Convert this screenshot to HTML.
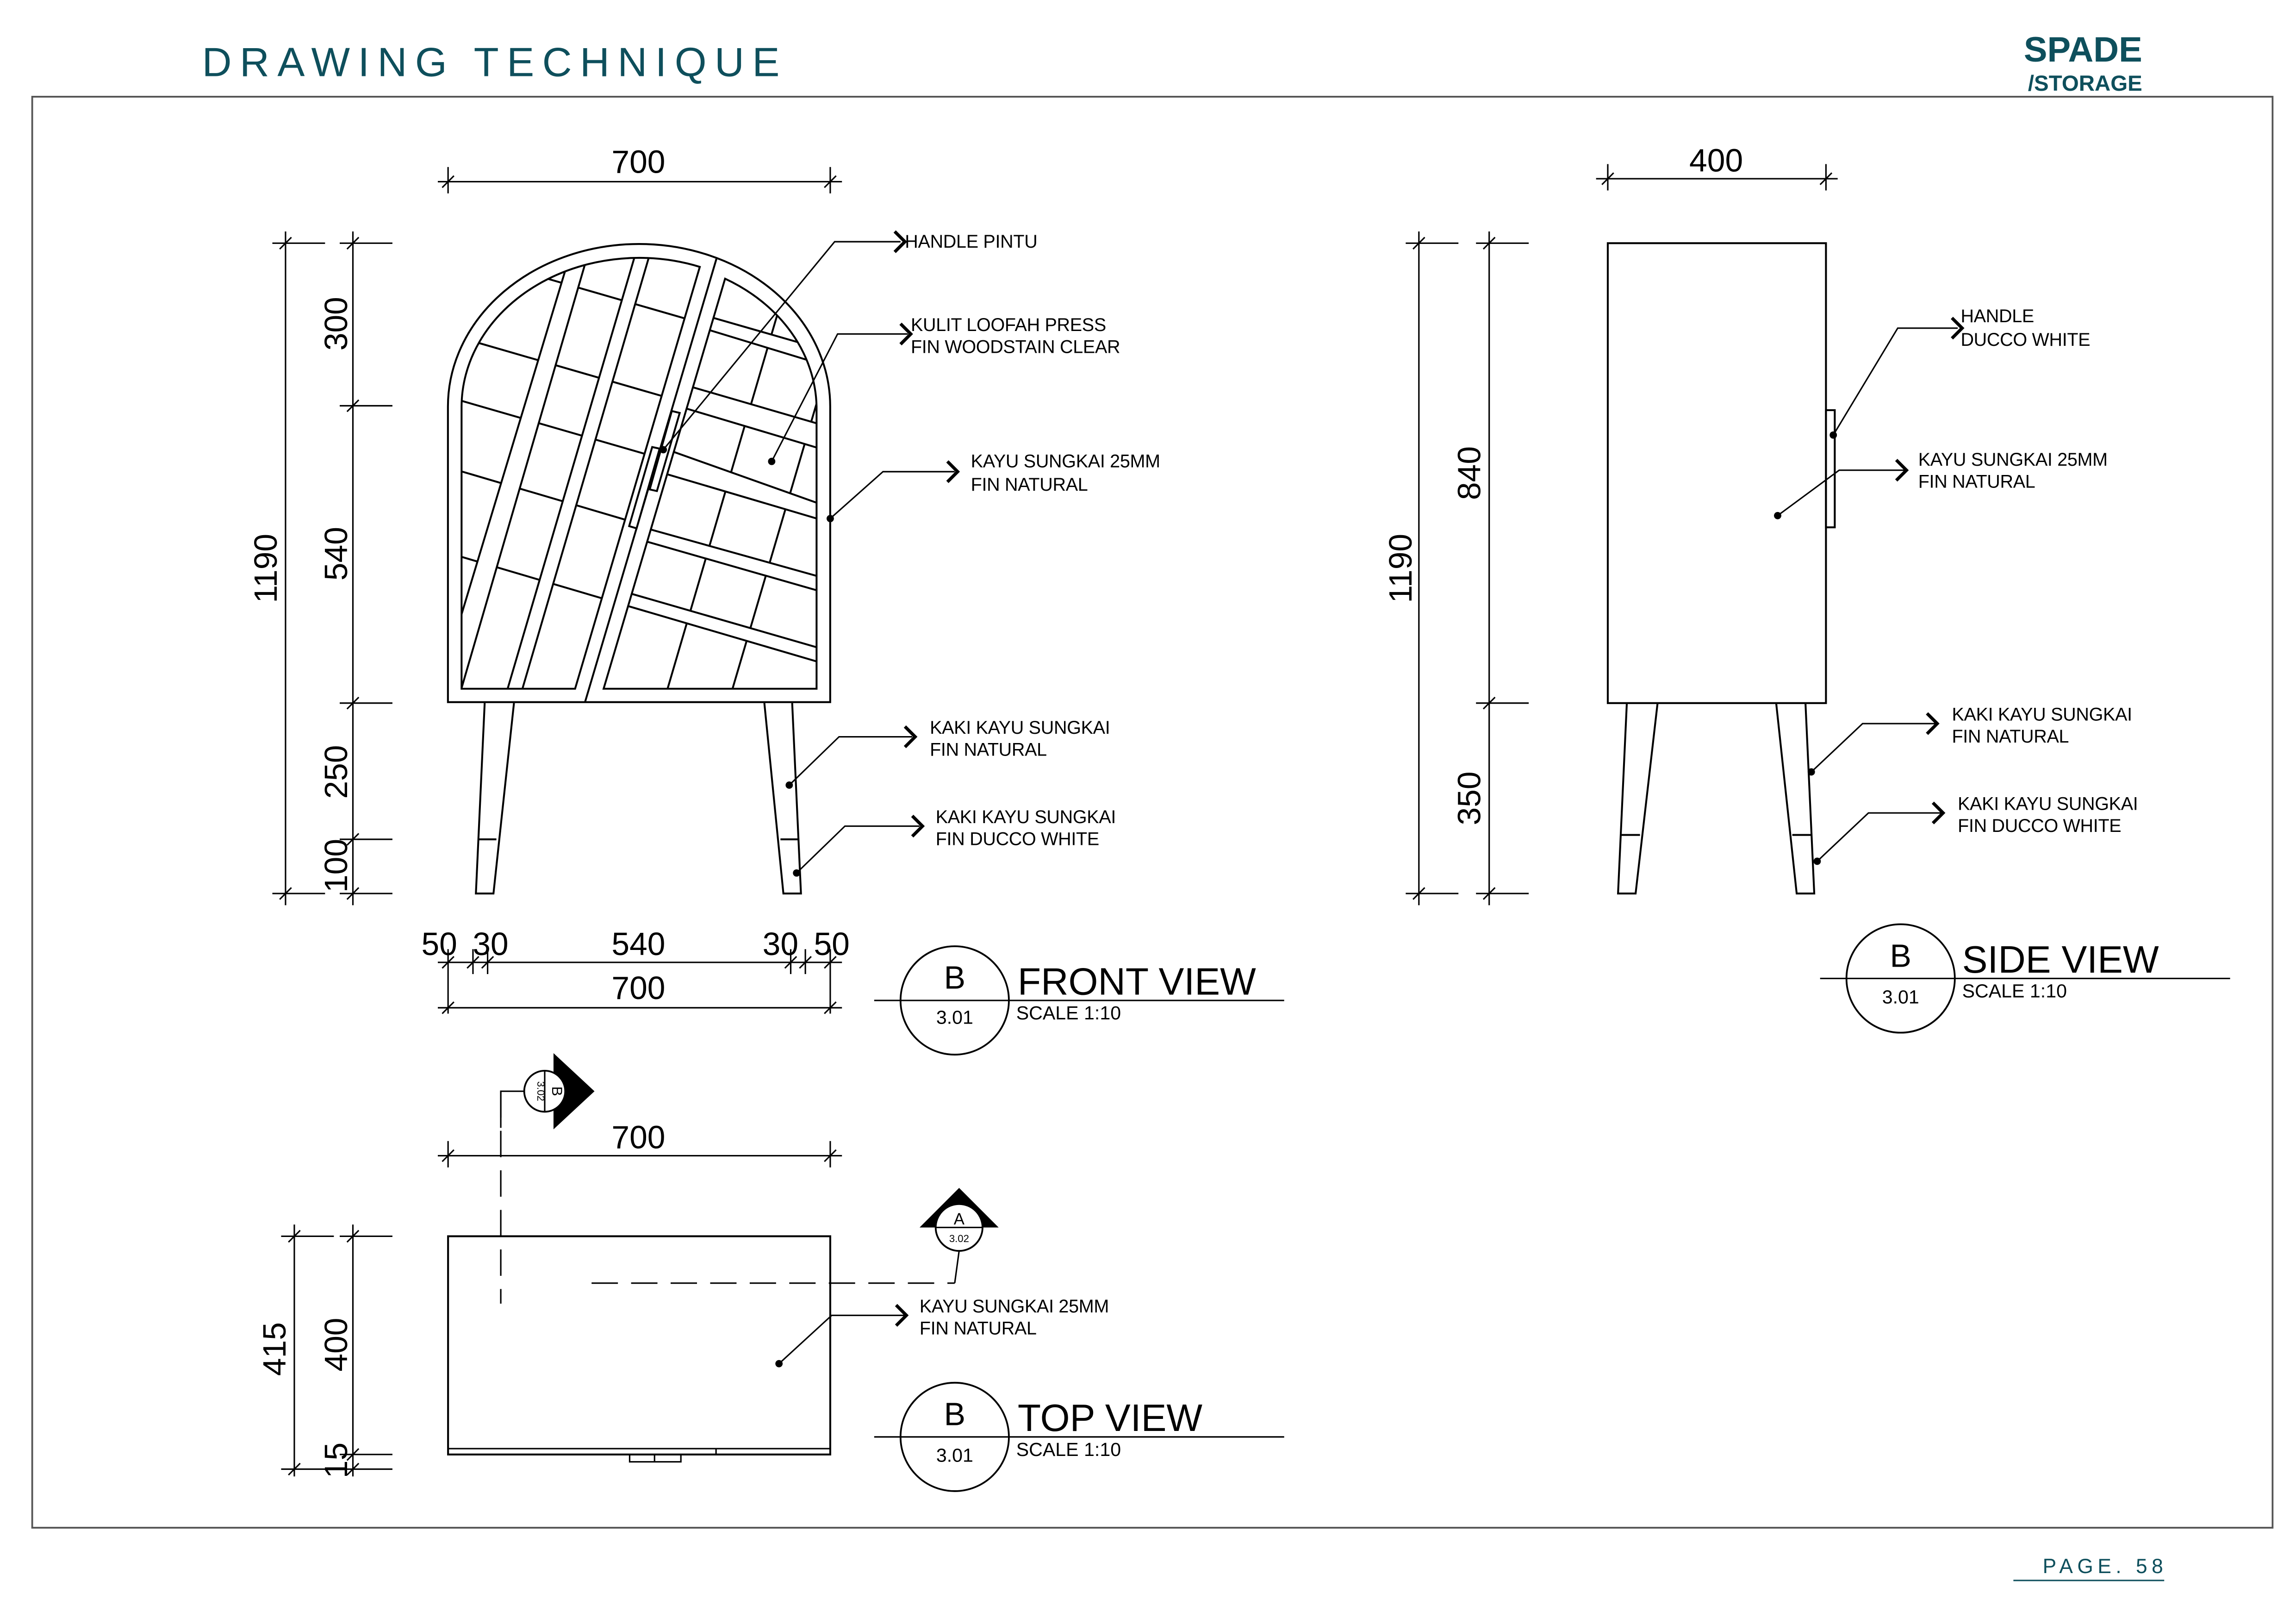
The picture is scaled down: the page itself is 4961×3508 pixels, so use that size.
<!DOCTYPE html>
<html><head><meta charset="utf-8"><style>
html,body{margin:0;padding:0;background:#fff}
svg{display:block}
text{font-family:"Liberation Sans",sans-serif;fill:#000}
.l{fill:none;stroke:#000;stroke-width:1.3}
.t{fill:none;stroke:#000;stroke-width:1}
.a{fill:none;stroke:#000;stroke-width:2.2}
.lb{font-size:12.5px;letter-spacing:-0.1px}
.dm{font-size:22px}
.ns{vector-effect:non-scaling-stroke;stroke-width:4.1}
</style></head><body>
<svg width="4961" height="3508" viewBox="0 0 1568 1108.7" xmlns="http://www.w3.org/2000/svg">
<defs>
<clipPath id="cL"><path d="M107,1463 V578 A716 468 0 0 1 1068,140 L565,1463 Z"/></clipPath>
<clipPath id="cR"><path d="M680,1463 L1170,177 A716 468 0 0 1 1539,578 V1463 Z"/></clipPath>
</defs>
<rect width="1568" height="1108.7" fill="#fff"/>
<text x="138" y="52" style="font-size:28px;letter-spacing:5.5px;fill:#0e4f5c">DRAWING TECHNIQUE</text>
<text x="1463" y="42" text-anchor="end" style="font-size:24px;font-weight:bold;fill:#0e4f5c">SPADE</text>
<text x="1463" y="62" text-anchor="end" style="font-size:15px;font-weight:bold;fill:#0e4f5c">/STORAGE</text>
<rect x="22" y="66" width="1530" height="977" fill="none" stroke="#555" stroke-width="1.2"/>
<text x="1395" y="1074" style="font-size:14px;letter-spacing:3px;fill:#0e4f5c">PAGE. 58</text>
<line x1="1375" y1="1079" x2="1478" y2="1079" stroke="#0e4f5c" stroke-width="1"/>

<g transform="translate(297.1,151.7) scale(0.1693,0.2177)">
 <path class="ns" d="M52,1505 V578 A771 510 0 0 1 1594,578 V1505 Z" fill="#fff" stroke="#000"/>
 <line class="ns" x1="605" y1="1505" x2="1135" y2="115" stroke="#000"/>
 <g clip-path="url(#cL)" stroke="#000" fill="#fff">
  <line class="ns" x1="-200" y1="30" x2="1600" y2="435"/>
  <line class="ns" x1="-200" y1="294" x2="1600" y2="699"/>
  <line class="ns" x1="-200" y1="491" x2="1600" y2="896"/>
  <line class="ns" x1="-200" y1="711" x2="1600" y2="1124"/>
  <line class="ns" x1="-200" y1="979" x2="1600" y2="1392"/>
  <path class="ns" d="M-50,1634 L584,0 L658,-10 L-50,1880 Z"/>
  <path class="ns" d="M190,1735 L846,0 L904,0 L250,1735 Z"/>
 </g>
 <path class="ns" d="M107,1463 V578 A716 468 0 0 1 1068,140 L565,1463 Z" fill="none" stroke="#000"/>
 <g clip-path="url(#cR)" stroke="#000" fill="#fff">
  <line class="ns" x1="1450" y1="106" x2="938" y2="1463"/>
  <line class="ns" x1="1620" y1="355" x2="1200" y2="1463"/>
  <path class="ns" d="M600,183 L1700,429 L1700,479 L600,218 Z"/>
  <path class="ns" d="M600,418 L1700,667 L1700,744 L600,488 Z"/>
  <path class="ns" d="M600,620 L1700,924 L1700,966 L600,713 Z"/>
  <path class="ns" d="M600,905 L1700,1144 L1700,1190 L600,945 Z"/>
  <path class="ns" d="M600,1122 L1700,1369 L1700,1414 L600,1163 Z"/>
 </g>
 <path class="ns" d="M680,1463 L1170,177 A716 468 0 0 1 1539,578 V1463 Z" fill="none" stroke="#000"/>
 <polygon class="ns" points="955,592 987,598 895,843 866,838" fill="#fff" stroke="#000"/>
 <polygon class="ns" points="876,705 906,710 813,960 783,953" fill="#fff" stroke="#000"/>
</g>
<path class="l" d="M331,480 L325,610 L337,610 L351,480 M327,573 H339"/>
<path class="l" d="M522,480 L535,610 L547,610 L541,480 M533,573 H545"/>

<g class="t">
 <line x1="299" y1="124" x2="575" y2="124"/><line x1="306" y1="114" x2="306" y2="132"/><line x1="567" y1="114" x2="567" y2="132"/>
 <line x1="302" y1="128" x2="310" y2="120"/><line x1="563" y1="128" x2="571" y2="120"/>
 <line x1="195" y1="158" x2="195" y2="618"/>
 <line x1="186" y1="166" x2="222" y2="166"/><line x1="186" y1="610" x2="222" y2="610"/>
 <line x1="191" y1="170" x2="199" y2="162"/><line x1="191" y1="614" x2="199" y2="606"/>
 <line x1="241" y1="158" x2="241" y2="618"/>
 <line x1="232" y1="166" x2="268" y2="166"/><line x1="232" y1="277" x2="268" y2="277"/><line x1="232" y1="480" x2="268" y2="480"/><line x1="232" y1="573" x2="268" y2="573"/><line x1="232" y1="610" x2="268" y2="610"/>
 <line x1="237" y1="170" x2="245" y2="162"/><line x1="237" y1="281" x2="245" y2="273"/><line x1="237" y1="484" x2="245" y2="476"/><line x1="237" y1="577" x2="245" y2="569"/><line x1="237" y1="614" x2="245" y2="606"/>
 <line x1="299" y1="657" x2="575" y2="657"/>
 <line x1="306" y1="648" x2="306" y2="692"/><line x1="323" y1="648" x2="323" y2="665"/><line x1="333" y1="648" x2="333" y2="665"/><line x1="540" y1="648" x2="540" y2="665"/><line x1="550" y1="648" x2="550" y2="665"/><line x1="567" y1="648" x2="567" y2="692"/>
 <line x1="302" y1="661" x2="310" y2="653"/><line x1="319" y1="661" x2="327" y2="653"/><line x1="329" y1="661" x2="337" y2="653"/><line x1="536" y1="661" x2="544" y2="653"/><line x1="546" y1="661" x2="554" y2="653"/><line x1="563" y1="661" x2="571" y2="653"/>
 <line x1="299" y1="688" x2="575" y2="688"/><line x1="302" y1="692" x2="310" y2="684"/><line x1="563" y1="692" x2="571" y2="684"/>
</g>
<text class="dm" x="436" y="118" text-anchor="middle">700</text>
<text class="dm" transform="translate(189,388) rotate(-90)" text-anchor="middle">1190</text>
<text class="dm" transform="translate(237,221) rotate(-90)" text-anchor="middle">300</text>
<text class="dm" transform="translate(237,378) rotate(-90)" text-anchor="middle">540</text>
<text class="dm" transform="translate(237,527) rotate(-90)" text-anchor="middle">250</text>
<text class="dm" transform="translate(237,591) rotate(-90)" text-anchor="middle">100</text>
<text class="dm" x="300" y="652" text-anchor="middle">50</text>
<text class="dm" x="335" y="652" text-anchor="middle">30</text>
<text class="dm" x="436" y="652" text-anchor="middle">540</text>
<text class="dm" x="533" y="652" text-anchor="middle">30</text>
<text class="dm" x="568" y="652" text-anchor="middle">50</text>
<text class="dm" x="436" y="682" text-anchor="middle">700</text>

<g class="t">
 <polyline points="453,307 570,165 615,165"/>
 <polyline points="527,315 572,228 620,228"/>
 <polyline points="567,354 603,322 652,322"/>
 <polyline points="539,536 573,503 623,503"/>
 <polyline points="544,596 577,564 628,564"/>
</g>
<g class="a">
 <polyline points="611,158 618,165 611,172"/>
 <polyline points="615,221 622,228 615,235"/>
 <polyline points="647,315 654,322 647,329"/>
 <polyline points="618,496 625,503 618,510"/>
 <polyline points="623,557 630,564 623,571"/>
</g>
<g fill="#000"><circle cx="453" cy="307" r="2.5"/><circle cx="527" cy="315" r="2.5"/><circle cx="567" cy="354" r="2.5"/><circle cx="539" cy="536" r="2.5"/><circle cx="544" cy="596" r="2.5"/></g>
<text class="lb" x="618" y="169">HANDLE PINTU</text>
<text class="lb" x="622" y="226">KULIT LOOFAH PRESS</text>
<text class="lb" x="622" y="241">FIN WOODSTAIN CLEAR</text>
<text class="lb" x="663" y="319">KAYU SUNGKAI  25MM</text>
<text class="lb" x="663" y="335">FIN NATURAL</text>
<text class="lb" x="635" y="501">KAKI KAYU SUNGKAI</text>
<text class="lb" x="635" y="516">FIN NATURAL</text>
<text class="lb" x="639" y="562">KAKI KAYU SUNGKAI</text>
<text class="lb" x="639" y="577">FIN DUCCO WHITE</text>

<line class="t" x1="597" y1="683" x2="877" y2="683"/>
<circle cx="652" cy="683" r="37" fill="#fff" stroke="#000" stroke-width="1.2"/>
<line class="t" x1="615" y1="683" x2="689" y2="683"/>
<text x="652" y="675" text-anchor="middle" style="font-size:22px">B</text>
<text x="652" y="699" text-anchor="middle" style="font-size:13px">3.01</text>
<text x="695" y="679" style="font-size:26px">FRONT  VIEW</text>
<text x="694" y="696" style="font-size:13px">SCALE 1:10</text>

<rect class="l" x="1098" y="166" width="149" height="314"/>
<rect class="l" x="1247" y="280" width="6" height="80"/>
<path class="l" d="M1111,480 L1105,610 L1117,610 L1132,480 M1107,570 H1120"/>
<path class="l" d="M1213,480 L1227,610 L1239,610 L1233,480 M1224,570 H1237"/>
<g class="t">
 <line x1="1090" y1="122" x2="1255" y2="122"/><line x1="1098" y1="112" x2="1098" y2="130"/><line x1="1247" y1="112" x2="1247" y2="130"/>
 <line x1="1094" y1="126" x2="1102" y2="118"/><line x1="1243" y1="126" x2="1251" y2="118"/>
 <line x1="969" y1="158" x2="969" y2="618"/>
 <line x1="960" y1="166" x2="996" y2="166"/><line x1="960" y1="610" x2="996" y2="610"/>
 <line x1="965" y1="170" x2="973" y2="162"/><line x1="965" y1="614" x2="973" y2="606"/>
 <line x1="1017" y1="158" x2="1017" y2="618"/>
 <line x1="1008" y1="166" x2="1044" y2="166"/><line x1="1008" y1="480" x2="1044" y2="480"/><line x1="1008" y1="610" x2="1044" y2="610"/>
 <line x1="1013" y1="170" x2="1021" y2="162"/><line x1="1013" y1="484" x2="1021" y2="476"/><line x1="1013" y1="614" x2="1021" y2="606"/>
</g>
<text class="dm" x="1172" y="117" text-anchor="middle">400</text>
<text class="dm" transform="translate(964,388) rotate(-90)" text-anchor="middle">1190</text>
<text class="dm" transform="translate(1011,323) rotate(-90)" text-anchor="middle">840</text>
<text class="dm" transform="translate(1011,545) rotate(-90)" text-anchor="middle">350</text>
<g class="t">
 <polyline points="1252,297 1296,224 1337,224"/>
 <polyline points="1214,352 1256,321 1302,321"/>
 <polyline points="1237,527 1272,494 1322,494"/>
 <polyline points="1241,588 1276,555 1326,555"/>
</g>
<g class="a">
 <polyline points="1333,217 1340,224 1333,231"/>
 <polyline points="1295,314 1302,321 1295,328"/>
 <polyline points="1316,487 1323,494 1316,501"/>
 <polyline points="1320,548 1327,555 1320,562"/>
</g>
<g fill="#000"><circle cx="1252" cy="297" r="2.5"/><circle cx="1214" cy="352" r="2.5"/><circle cx="1237" cy="527" r="2.5"/><circle cx="1241" cy="588" r="2.5"/></g>
<text class="lb" x="1339" y="220">HANDLE</text>
<text class="lb" x="1339" y="236">DUCCO WHITE</text>
<text class="lb" x="1310" y="318">KAYU SUNGKAI  25MM</text>
<text class="lb" x="1310" y="333">FIN NATURAL</text>
<text class="lb" x="1333" y="492">KAKI KAYU SUNGKAI</text>
<text class="lb" x="1333" y="507">FIN NATURAL</text>
<text class="lb" x="1337" y="553">KAKI KAYU SUNGKAI</text>
<text class="lb" x="1337" y="568">FIN DUCCO WHITE</text>
<line class="t" x1="1243" y1="668" x2="1523" y2="668"/>
<circle cx="1298" cy="668" r="37" fill="#fff" stroke="#000" stroke-width="1.2"/>
<line class="t" x1="1261" y1="668" x2="1335" y2="668"/>
<text x="1298" y="660" text-anchor="middle" style="font-size:22px">B</text>
<text x="1298" y="685" text-anchor="middle" style="font-size:13px">3.01</text>
<text x="1340" y="664" style="font-size:26px">SIDE VIEW</text>
<text x="1340" y="681" style="font-size:13px">SCALE 1:10</text>

<rect class="l" x="306" y="844" width="261" height="149"/>
<line class="t" x1="306" y1="989" x2="567" y2="989"/>
<line class="t" x1="489" y1="989" x2="489" y2="993"/>
<rect class="t" x="430" y="993" width="35" height="5"/>
<line class="t" x1="447" y1="993" x2="447" y2="998"/>
<g stroke="#000" stroke-width="1" stroke-dasharray="18,9" fill="none">
 <line x1="342" y1="745" x2="342" y2="890"/>
 <line x1="404" y1="876" x2="652" y2="876"/>
</g>
<polyline class="t" points="342,770 342,745 359,745"/>
<polygon points="378,719 406,745 378,771" fill="#000"/>
<circle cx="372" cy="745" r="14" fill="#fff" stroke="#000" stroke-width="1.2"/>
<line class="t" x1="372" y1="731" x2="372" y2="759"/>
<text transform="translate(377,745) rotate(90)" text-anchor="middle" style="font-size:10px">B</text>
<text transform="translate(367,745) rotate(90)" text-anchor="middle" style="font-size:7px">3.02</text>
<line class="t" x1="652" y1="876" x2="655" y2="854"/>
<polygon points="628,838 655,811 682,838" fill="#000"/>
<circle cx="655" cy="838" r="16" fill="#fff" stroke="#000" stroke-width="1.2"/>
<line class="t" x1="639" y1="838" x2="671" y2="838"/>
<text x="655" y="836" text-anchor="middle" style="font-size:11px">A</text>
<text x="655" y="848" text-anchor="middle" style="font-size:7px">3.02</text>
<g class="t">
 <line x1="299" y1="789" x2="575" y2="789"/><line x1="306" y1="779" x2="306" y2="797"/><line x1="567" y1="779" x2="567" y2="797"/>
 <line x1="302" y1="793" x2="310" y2="785"/><line x1="563" y1="793" x2="571" y2="785"/>
 <line x1="201" y1="836" x2="201" y2="1008"/>
 <line x1="192" y1="844" x2="228" y2="844"/><line x1="192" y1="1003" x2="228" y2="1003"/>
 <line x1="197" y1="848" x2="205" y2="840"/><line x1="197" y1="1007" x2="205" y2="999"/>
 <line x1="241" y1="836" x2="241" y2="1008"/>
 <line x1="232" y1="844" x2="268" y2="844"/><line x1="232" y1="993" x2="268" y2="993"/><line x1="232" y1="1003" x2="268" y2="1003"/>
 <line x1="237" y1="848" x2="245" y2="840"/><line x1="237" y1="997" x2="245" y2="989"/><line x1="237" y1="1007" x2="245" y2="999"/>
</g>
<text class="dm" x="436" y="784" text-anchor="middle">700</text>
<text class="dm" transform="translate(195,921) rotate(-90)" text-anchor="middle">415</text>
<text class="dm" transform="translate(237,918) rotate(-90)" text-anchor="middle">400</text>
<text class="dm" transform="translate(237,997) rotate(-90)" text-anchor="middle">15</text>
<polyline class="t" points="532,931 568,898 618,898"/>
<polyline class="a" points="612,891 619,898 612,905"/>
<circle cx="532" cy="931" r="2.5" fill="#000"/>
<text class="lb" x="628" y="896">KAYU SUNGKAI  25MM</text>
<text class="lb" x="628" y="911">FIN NATURAL</text>
<line class="t" x1="597" y1="981" x2="877" y2="981"/>
<circle cx="652" cy="981" r="37" fill="#fff" stroke="#000" stroke-width="1.2"/>
<line class="t" x1="615" y1="981" x2="689" y2="981"/>
<text x="652" y="973" text-anchor="middle" style="font-size:22px">B</text>
<text x="652" y="998" text-anchor="middle" style="font-size:13px">3.01</text>
<text x="695" y="977" style="font-size:26px">TOP  VIEW</text>
<text x="694" y="994" style="font-size:13px">SCALE 1:10</text>
</svg>
</body></html>
